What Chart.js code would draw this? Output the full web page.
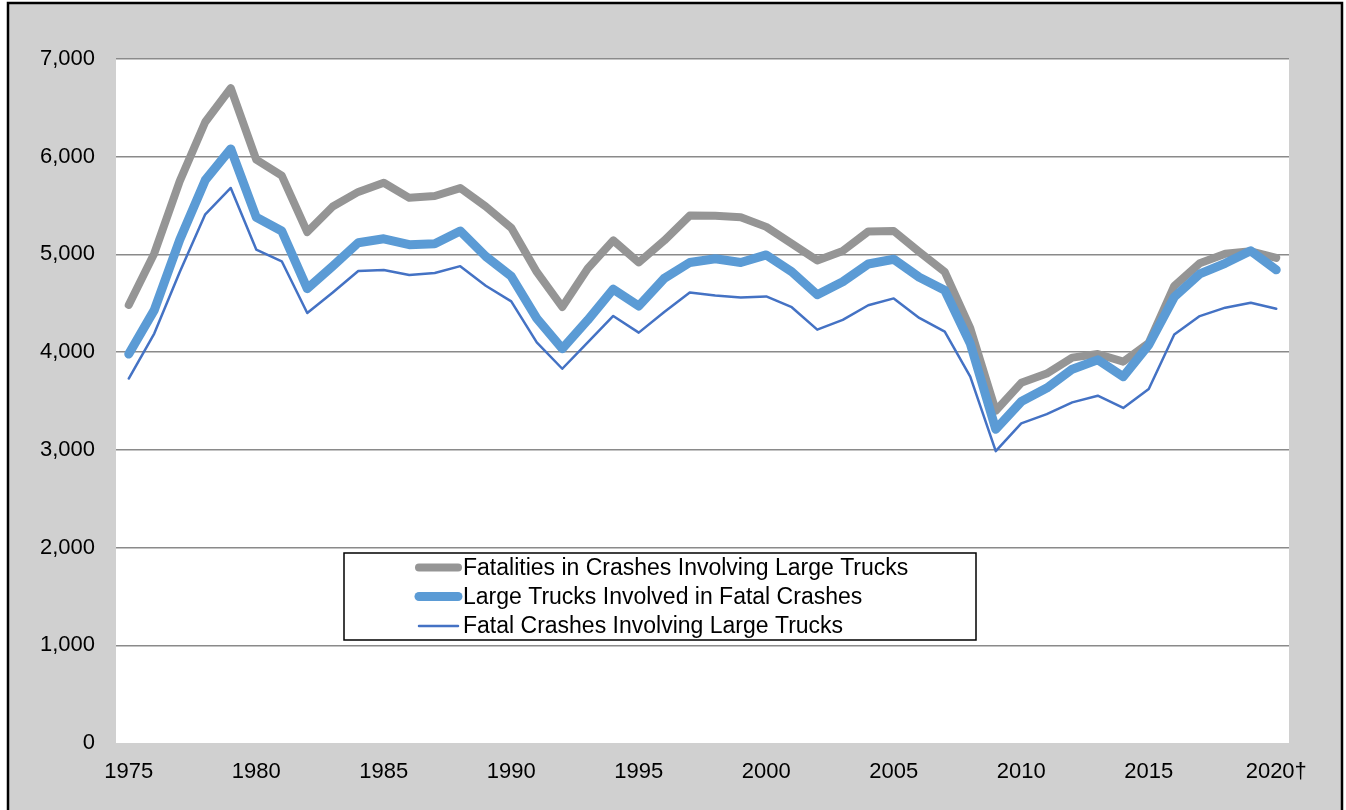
<!DOCTYPE html>
<html>
<head>
<meta charset="utf-8">
<script src="https://cdn.jsdelivr.net/npm/chart.js@4"></script>
<style>
  html, body { margin: 0; padding: 0; background: #ffffff; }
  #wrap { position: absolute; left: 0; top: 0; width: 1346px; height: 810px; }
</style>
</head>
<body>
<div id="wrap"><canvas id="c" width="1346" height="810"></canvas></div>
<script>
const years = ['1975','1976','1977','1978','1979','1980','1981','1982','1983','1984',
  '1985','1986','1987','1988','1989','1990','1991','1992','1993','1994',
  '1995','1996','1997','1998','1999','2000','2001','2002','2003','2004',
  '2005','2006','2007','2008','2009','2010','2011','2012','2013','2014',
  '2015','2016','2017','2018','2019','2020†'];

const fatalities = [4483, 5010, 5750, 6355, 6702, 5971, 5806, 5229, 5491, 5640,
  5734, 5579, 5598, 5679, 5490, 5272, 4821, 4462, 4856, 5144,
  4918, 5142, 5398, 5395, 5380, 5282, 5111, 4939, 5036, 5235,
  5240, 5027, 4822, 4245, 3400, 3686, 3781, 3944, 3981, 3903,
  4094, 4678, 4909, 5006, 5032, 4965];

const trucksInvolved = [3980, 4430, 5150, 5760, 6080, 5380, 5240, 4650, 4880, 5120,
  5160, 5100, 5110, 5240, 4980, 4776, 4345, 4035, 4328, 4644,
  4472, 4755, 4917, 4955, 4917, 4995, 4823, 4587, 4721, 4902,
  4951, 4766, 4633, 4089, 3211, 3494, 3633, 3825, 3921, 3749,
  4074, 4564, 4800, 4909, 5037, 4842];

const fatalCrashes = [3730, 4190, 4820, 5410, 5680, 5050, 4930, 4400, 4610, 4830,
  4840, 4790, 4810, 4880, 4680, 4520, 4100, 3830, 4100, 4370,
  4200, 4410, 4610, 4580, 4560, 4570, 4460, 4230, 4330, 4480,
  4550, 4350, 4210, 3750, 2987, 3271, 3365, 3486, 3554, 3429,
  3622, 4180, 4369, 4455, 4506, 4444];

const seriesNames = [
  'Fatalities in Crashes Involving Large Trucks',
  'Large Trucks Involved in Fatal Crashes',
  'Fatal Crashes Involving Large Trucks'
];

const FONT = 'Arial, "Liberation Sans", sans-serif';

const backgroundPlugin = {
  id: 'bg',
  beforeDraw(chart) {
    const ctx = chart.ctx;
    const ca = chart.chartArea;
    ctx.save();
    ctx.fillStyle = '#ffffff';
    ctx.fillRect(0, 0, chart.width, chart.height);
    ctx.fillStyle = '#d0d0d0';
    ctx.fillRect(8, 3, 1334, chart.height);
    ctx.strokeStyle = '#000000';
    ctx.lineWidth = 2.5;
    ctx.strokeRect(8, 3, 1334, chart.height + 10);
    ctx.fillStyle = '#ffffff';
    ctx.fillRect(ca.left, ca.top, ca.right - ca.left, ca.bottom - ca.top);
    ctx.restore();
  }
};

const legendPlugin = {
  id: 'innerLegend',
  afterDraw(chart) {
    const ctx = chart.ctx;
    const ca = chart.chartArea;
    const x0 = ca.left + 228, y0 = ca.top + 494, w = 632, h = 87;
    ctx.save();
    ctx.fillStyle = '#ffffff';
    ctx.fillRect(x0, y0, w, h);
    ctx.strokeStyle = '#000000';
    ctx.lineWidth = 1.5;
    ctx.strokeRect(x0, y0, w, h);
    const rows = [y0 + 14.5, y0 + 43.5, y0 + 73];
    chart.data.datasets.forEach((ds, i) => {
      const y = rows[i];
      ctx.beginPath();
      ctx.strokeStyle = ds.borderColor;
      ctx.lineWidth = ds.borderWidth;
      ctx.lineCap = 'round';
      ctx.moveTo(x0 + 75, y);
      ctx.lineTo(x0 + 114, y);
      ctx.stroke();
      ctx.fillStyle = '#000000';
      ctx.font = '23px ' + FONT;
      ctx.textAlign = 'left';
      ctx.textBaseline = 'middle';
      ctx.fillText(ds.label, x0 + 119, y + 1);
    });
    ctx.restore();
  }
};

new Chart(document.getElementById('c'), {
  type: 'line',
  data: {
    labels: years,
    datasets: [
      { label: seriesNames[0], data: fatalities, borderColor: '#959595', borderWidth: 8, order: 3 },
      { label: seriesNames[1], data: trucksInvolved, borderColor: '#5b9bd5', borderWidth: 9, order: 2 },
      { label: seriesNames[2], data: fatalCrashes, borderColor: '#4472c4', borderWidth: 2.5, order: 1 }
    ]
  },
  options: {
    responsive: false,
    animation: false,
    devicePixelRatio: 1,
    layout: { padding: { left: 0, right: 57, top: 59, bottom: 0 } },
    elements: {
      point: { radius: 0, hoverRadius: 0 },
      line: { tension: 0, borderCapStyle: 'round', borderJoinStyle: 'round', fill: false }
    },
    plugins: {
      legend: { display: false },
      tooltip: { enabled: false }
    },
    scales: {
      x: {
        offset: true,
        grid: { display: false, drawTicks: false },
        border: { display: false },
        afterFit(scale) { scale.height = 67; },
        ticks: {
          autoSkip: false,
          maxRotation: 0,
          padding: 16,
          color: '#000000',
          font: { family: FONT, size: 22 },
          callback(value, index) { return index % 5 === 0 ? this.getLabelForValue(value) : ''; }
        }
      },
      y: {
        min: 0,
        max: 7000,
        grid: {
          drawTicks: false,
          lineWidth: 1.5,
          color: (c) => c.tick && c.tick.value === 0 ? 'rgba(0,0,0,0)' : '#8a8a8a'
        },
        border: { display: false },
        afterFit(scale) { scale.width = 116; },
        ticks: {
          stepSize: 1000,
          padding: 21,
          color: '#000000',
          font: { family: FONT, size: 22 },
          callback(value) { return value.toLocaleString('en-US'); }
        }
      }
    }
  },
  plugins: [backgroundPlugin, legendPlugin]
});
</script>
</body>
</html>
